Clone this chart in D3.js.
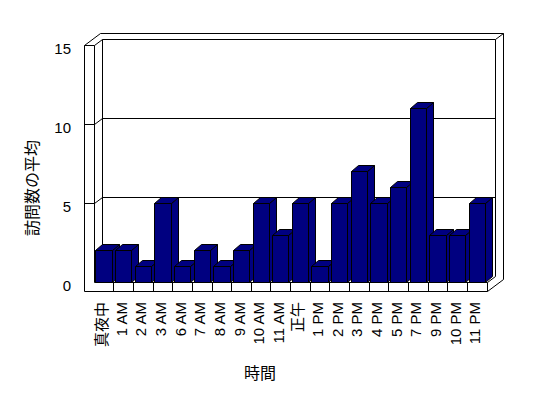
<!DOCTYPE html>
<html>
<head>
<meta charset="utf-8">
<script src="https://cdn.jsdelivr.net/npm/d3@7"></script>
<style>
  html, body { margin: 0; padding: 0; background: #fff; }
  svg { display: block; }
  text { fill: #000; font-family: "Liberation Sans", Arial, "Noto Sans CJK JP", sans-serif; }
</style>
</head>
<body>
<svg id="chart" width="548" height="398"></svg>
<script>
// ---- data ----
const categories = ["真夜中","1 AM","2 AM","3 AM","6 AM","7 AM","8 AM","9 AM","10 AM","11 AM","正午","1 PM","2 PM","3 PM","4 PM","5 PM","7 PM","9 PM","10 PM","11 PM"];
const values = [2,2,1,5,1,2,1,2,5,3,5,1,5,7,5,6,11,3,3,5];
const yTicks = [0,5,10,15];
const yTitle = "訪問数の平均";
const xTitle = "時間";

// ---- geometry ----
const svg = d3.select("#chart");
const wallOuterX = 84;
const x0 = 93.65, x1 = 486.6;
const yBase = 282, yTop = 45;
const floorBottom = 291;
const dv = [8, -6];
const bd = [7, -6];

const x = d3.scaleBand().domain(categories).range([x0, x1]).paddingInner(0.17).paddingOuter(0.085);
const y = d3.scaleLinear().domain([0, 15]).range([yBase, yTop]);

const snap = v => Math.round(v) + 0.5;
const line = d3.line().x(d => snap(d[0])).y(d => snap(d[1]));
const g = svg.append("g").attr("stroke", "#000").attr("stroke-width", 1).attr("fill", "none");

function poly(pts, fill) {
  g.append("path").attr("d", line(pts) + "Z").attr("fill", fill || "none");
}
function seg(pts) {
  g.append("path").attr("d", line(pts));
}
const p = (px, py, k) => [px + dv[0] * k, py + dv[1] * k];

// walls outline
poly([
  [wallOuterX, floorBottom], [wallOuterX, y(15)], p(wallOuterX, y(15), 2), p(x1, y(15), 2),
  p(x1, floorBottom, 2), [x1, floorBottom]
], "#fff");
seg([p(x0, y(15), 1), p(x1, y(15), 1), p(x1, yBase, 1)]);
seg([p(x1, y(15), 1), p(x1, y(15), 2)]);
seg([[wallOuterX, y(15)], [x0, y(15)], p(x0, y(15), 1), p(x0, yBase, 1)]);
seg([[x0, y(15)], [x0, yBase]]);
yTicks.filter(t => t > 0 && t < 15).forEach(t => {
  seg([[wallOuterX, y(t)], [x0, y(t)], p(x0, y(t), 1), p(x1, y(t), 1)]);
});
// floor front face
seg([[x0, yBase], [x1, yBase], [x1, floorBottom]]);
seg([[x1, yBase], p(x1, yBase, 1)]);
categories.slice(1).forEach(c => {
  const xx = x(c) - x.step() * x.paddingInner() / 2;
  seg([[xx, yBase], [xx, floorBottom]]);
});

// bars
const navy = "#000080";
categories.forEach((c, i) => {
  const bx = x(c), bw = x.bandwidth(), ty = y(values[i]);
  poly([[bx + bw, yBase], [bx + bw, ty], [bx + bw + bd[0], ty + bd[1]], [bx + bw + bd[0], yBase + bd[1]]], navy);
  poly([[bx, ty], [bx + bd[0], ty + bd[1]], [bx + bw + bd[0], ty + bd[1]], [bx + bw, ty]], navy);
  poly([[bx, yBase], [bx, ty], [bx + bw, ty], [bx + bw, yBase]], navy);
});

// y-axis labels
svg.append("g").selectAll("text").data(yTicks).join("text")
  .attr("x", 71).attr("y", d => y(d) + 3)
  .attr("text-anchor", "end").attr("dominant-baseline", "central")
  .attr("font-size", 15).text(d => d);

// x-axis labels (rotated)
svg.append("g").selectAll("text").data(categories).join("text")
  .attr("transform", d => `translate(${x(d) + x.bandwidth() / 2 - 2},302) rotate(-90)`)
  .attr("text-anchor", "end").attr("dominant-baseline", "central")
  .attr("font-size", 15).text(d => d);

// titles
svg.append("text").attr("transform", "translate(31,188) rotate(-90)")
  .attr("text-anchor", "middle").attr("dominant-baseline", "central")
  .attr("font-size", 16).style("font-family", "'Noto Sans CJK JP', sans-serif").text(yTitle);
svg.append("text").attr("x", 260).attr("y", 372)
  .attr("text-anchor", "middle").attr("dominant-baseline", "central")
  .attr("font-size", 16).style("font-family", "'Noto Sans CJK JP', sans-serif").text(xTitle);
</script>
</body>
</html>
